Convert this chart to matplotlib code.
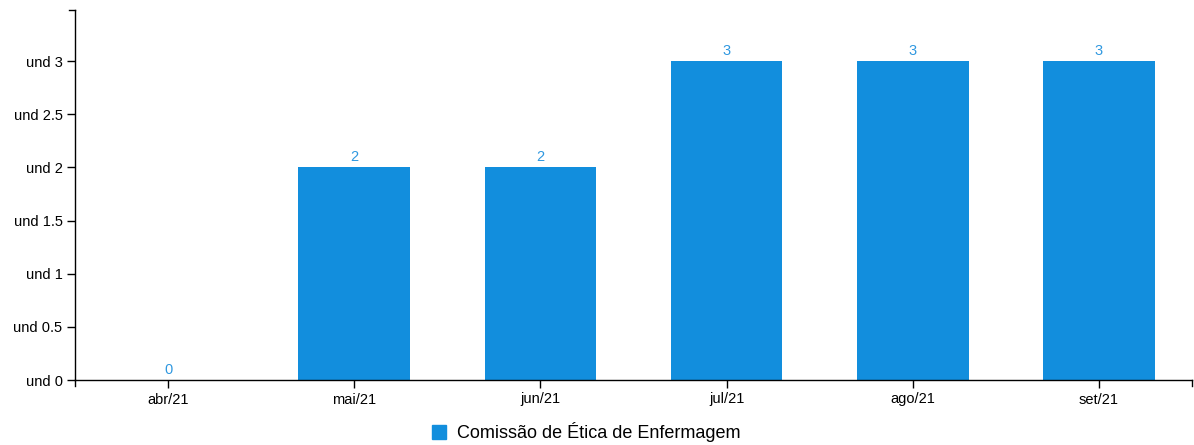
import matplotlib
matplotlib.use("Agg")
import matplotlib.pyplot as plt
from matplotlib.patches import Patch

plt.rcParams["font.family"] = ["Liberation Sans", "DejaVu Sans"]

months = ["abr/21", "mai/21", "jun/21", "jul/21", "ago/21", "set/21"]
values = [0, 2, 2, 3, 3, 3]
y_ticks = [0, 0.5, 1, 1.5, 2, 2.5, 3]
series_name = "Comissão de Ética de Enfermagem"

BAR = "#128edd"
LABEL = "#2f98e0"

W, H = 1194, 445
fig = plt.figure(figsize=(W / 100, H / 100), dpi=100)
ax = fig.add_axes([75 / W, 1 - 380 / H, (1192 - 75) / W, (380 - 10) / H])

x = list(range(len(months)))
ax.bar(x, values, width=0.6, color=BAR)
for xi, v in zip(x, values):
    ax.text(xi, v + 0.03, f"{v}", ha="center", va="bottom",
            color=LABEL, fontsize=10.5)

ax.set_xlim(-0.5, len(months) - 0.5)
ax.set_ylim(0, 3.48)
ax.set_xticks(x)
ax.set_xticklabels(months)
ax.set_yticks(y_ticks)
ax.set_yticklabels([f"und {t:g}" for t in y_ticks])
ax.tick_params(axis="both", length=6, width=1, labelsize=10.5, colors="black",
               pad=3)
for s in ("top", "right"):
    ax.spines[s].set_visible(False)
for s in ("left", "bottom"):
    ax.spines[s].set_linewidth(1)

# outer ticks at the ends of both axes
for xf in (0, 1):
    ax.plot([xf, xf], [0, -6 / 370], color="black", lw=1, clip_on=False,
            transform=ax.transAxes)
ax.plot([0, -6 / 1117], [1, 1], color="black", lw=1, clip_on=False,
        transform=ax.transAxes)

fig.legend(handles=[Patch(color=BAR, label=series_name)],
           loc="center", bbox_to_anchor=(586 / W, 1 - 432 / H),
           frameon=False, fontsize=13, handlelength=0.8, handleheight=0.8,
           handletextpad=0.6, borderaxespad=0)

fig.savefig("out.png", dpi=100)
